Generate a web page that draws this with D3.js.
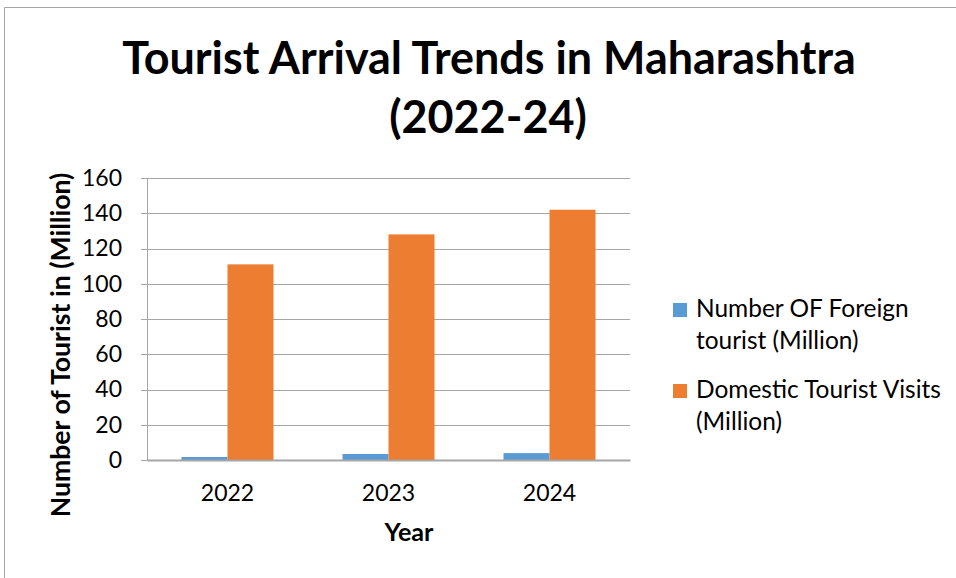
<!DOCTYPE html>
<html>
<head>
<meta charset="utf-8">
<script src="https://cdn.jsdelivr.net/npm/d3@7"></script>
<style>
  html, body { margin: 0; padding: 0; background: #fff; }
  svg { display: block; font-family: Lato, "Open Sans", sans-serif; }
</style>
</head>
<body>
<svg id="chart"></svg>
<script>
// Tourist arrivals in Maharashtra, grouped bars.
const years = ["2022", "2023", "2024"];
const seriesNames = [
  ["Number OF Foreign", "tourist (Million)"],
  ["Domestic Tourist Visits", "(Million)"],
];
const foreign = [1.7, 3.4, 3.9];
const domestic = [111, 128, 142];
const yTicks = [0, 20, 40, 60, 80, 100, 120, 140, 160];
const colors = ["#5b9bd5", "#ed7d31"];

const w = 956, h = 578;
const m = { t: 178, r: 326, b: 118, l: 147 };
const svg = d3.select("#chart").attr("width", w).attr("height", h);

// chart frame (only top and left edges are visible)
svg.append("path")
  .attr("d", `M4.5,${h} V7.5 H${w}`)
  .attr("fill", "none").attr("stroke", "#a6a6a6").attr("stroke-width", 1);

// fit a text element's width by scaling its font size
function fit(sel, width) {
  const fs = parseFloat(sel.style("font-size"));
  const len = sel.node().getComputedTextLength();
  sel.style("font-size", (fs * width / len) + "px");
  return sel;
}

const x = d3.scaleBand().domain(years).range([m.l, w - m.r]);
const inner = d3.scaleBand().domain([0, 1]).range([0, x.bandwidth()]).paddingOuter(0.75).paddingInner(0);
const y = d3.scaleLinear().domain([0, 160]).range([h - m.b, m.t]);

// gridlines + y axis
svg.append("g").attr("transform", `translate(${m.l},0)`)
  .call(d3.axisLeft(y).tickValues(yTicks).tickSize(-(w - m.l - m.r)).tickPadding(25).tickFormat(d3.format("d")))
  .call(g => g.select(".domain").remove())
  .call(g => g.selectAll(".tick line").attr("stroke", "#a6a6a6").attr("shape-rendering", "crispEdges"))
  .call(g => g.selectAll(".tick").append("line")
    .attr("x1", -6).attr("x2", 0).attr("stroke", "#a6a6a6").attr("shape-rendering", "crispEdges"))
  .selectAll("text").attr("fill", "#000").style("font-size", "23px").style("font-family", "Lato");

svg.append("line")
  .attr("x1", m.l).attr("x2", m.l).attr("y1", m.t).attr("y2", h - m.b)
  .attr("stroke", "#a6a6a6").attr("shape-rendering", "crispEdges");

// bars
const data = years.map((yr, i) => ({ yr, vals: [foreign[i], domestic[i]] }));
const groups = svg.selectAll("g.grp").data(data).join("g")
  .attr("class", "grp")
  .attr("transform", d => `translate(${x(d.yr)},0)`);
groups.selectAll("rect").data(d => d.vals.map((v, k) => ({ v, k }))).join("rect")
  .attr("x", d => inner(d.k))
  .attr("width", inner.bandwidth())
  .attr("y", d => y(d.v))
  .attr("height", d => y(0) - y(d.v))
  .attr("fill", d => colors[d.k]);

// x axis
svg.append("g").attr("transform", `translate(0,${h - m.b})`)
  .call(d3.axisBottom(x).tickSize(0).tickPadding(25))
  .call(g => g.select(".domain").attr("stroke", "#a6a6a6").attr("stroke-width", 2))
  .selectAll("text").attr("fill", "#000").style("font-size", "23px").style("font-family", "Lato");

// titles
const title = svg.append("text").attr("text-anchor", "middle")
  .style("font-weight", 700).style("font-size", "42px").attr("fill", "#000");
fit(title.append("tspan").attr("x", 489).attr("y", 74).text("Tourist Arrival Trends in Maharashtra"), 734);
const t2 = title.append("tspan").attr("x", 488).attr("y", 133).text("(2022-24)");
t2.style("font-size", title.select("tspan").style("font-size"));

fit(svg.append("text").attr("text-anchor", "middle")
  .attr("transform", `translate(70,345) rotate(-90)`)
  .style("font-weight", 700).style("font-size", "20px")
  .text("Number of Tourist in (Million)"), 345);

fit(svg.append("text").attr("text-anchor", "middle")
  .attr("x", 409).attr("y", 541)
  .style("font-weight", 700).style("font-size", "22px")
  .text("Year"), 49);

// legend
const legend = svg.append("g").attr("transform", "translate(673,0)");
const legY = [303, 384];
const probe = fit(legend.append("text").style("font-size", "21px").text(seriesNames[1][0]), 245);
const legFont = probe.style("font-size");
probe.remove();
seriesNames.forEach((lines, k) => {
  legend.append("rect").attr("x", 0).attr("y", legY[k]).attr("width", 14).attr("height", 14).attr("fill", colors[k]);
  lines.forEach((ln, j) => {
    legend.append("text").attr("x", 23).attr("y", legY[k] + 14 + j * 32)
      .style("font-size", legFont).attr("fill", "#000").text(ln);
  });
});
</script>
</body>
</html>
